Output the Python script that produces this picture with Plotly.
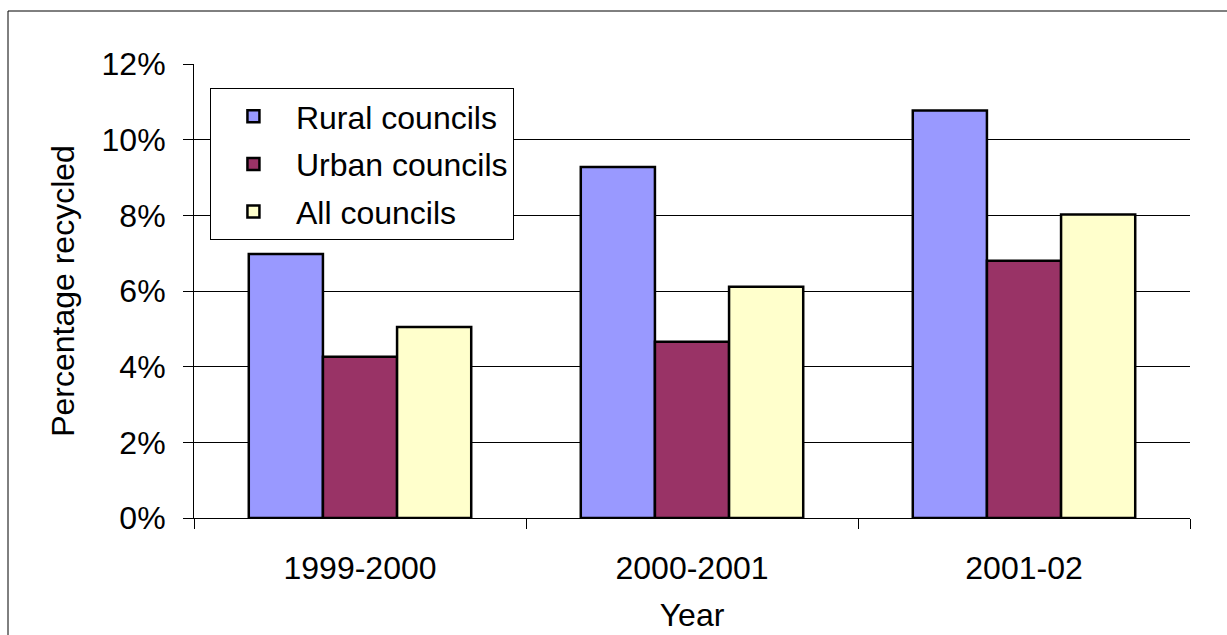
import plotly.graph_objects as go

years = ["1999-2000", "2000-2001", "2001-02"]
series_names = ["Rural councils", "Urban councils", "All councils"]
rural = [0.0698, 0.0928, 0.1077]
urban = [0.0426, 0.0466, 0.0680]
all_councils = [0.0505, 0.0611, 0.0802]
colors = ["#9999FF", "#993366", "#FFFFCC"]
y_ticks = [0, 0.02, 0.04, 0.06, 0.08, 0.10, 0.12]

FONT = "Liberation Sans, Arial, sans-serif"
FS = 32

fig = go.Figure()
for i, (name, vals) in enumerate(zip(series_names, [rural, urban, all_councils])):
    fig.add_trace(go.Bar(
        x=years, y=vals, name=name, legendgroup=name,
        marker=dict(color=colors[i], line=dict(color="black", width=2.5)),
    ))

fig.update_layout(
    width=1227, height=635,
    margin=dict(l=194, r=37, t=64, b=117, autoexpand=False),
    paper_bgcolor="white", plot_bgcolor="white",
    font=dict(family=FONT, size=FS, color="black"),
    barmode="group", bargap=0.33, bargroupgap=0,
    legend=dict(
        x=0.016, y=0.947, xanchor="left", yanchor="top",
        bgcolor="white", bordercolor="black", borderwidth=1,
        font=dict(family=FONT, size=FS, color="black"),
        traceorder="grouped", tracegroupgap=3, itemwidth=75,
    ),
    showlegend=True,
)
fig.update_xaxes(
    type="category", tickson="boundaries", ticks="outside", ticklen=10,
    tickcolor="black", showline=True, linecolor="black", linewidth=1,
    showgrid=False, tickfont=dict(size=FS), ticklabelstandoff=22,
    title=dict(text="Year", font=dict(size=FS), standoff=18),
)
fig.update_yaxes(
    range=[0, 0.12], tickvals=y_ticks, tickformat=".0%",
    ticks="outside", ticklen=10, tickcolor="black",
    showline=True, linecolor="black", linewidth=1,
    showgrid=True, gridcolor="black", gridwidth=1, zeroline=False,
    tickfont=dict(size=FS), ticklabelstandoff=11,
    title=dict(text="Percentage recycled", font=dict(size=FS), standoff=17),
)
# chart-area border (top and left edges visible in the reference)
fig.add_shape(type="line", xref="paper", yref="paper",
              x0=(8 - 194) / 996, x1=(1300 - 194) / 996,
              y0=(518 - 11) / 454, y1=(518 - 11) / 454,
              line=dict(color="black", width=1))
fig.add_shape(type="line", xref="paper", yref="paper",
              x0=(8 - 194) / 996, x1=(8 - 194) / 996,
              y0=(518 - 11) / 454, y1=(518 - 700) / 454,
              line=dict(color="black", width=1))
fig.write_html(
    "out.html",
    post_script="document.documentElement.style.overflow='hidden';"
                "document.body.style.overflow='hidden';document.body.style.margin='0';",
)
